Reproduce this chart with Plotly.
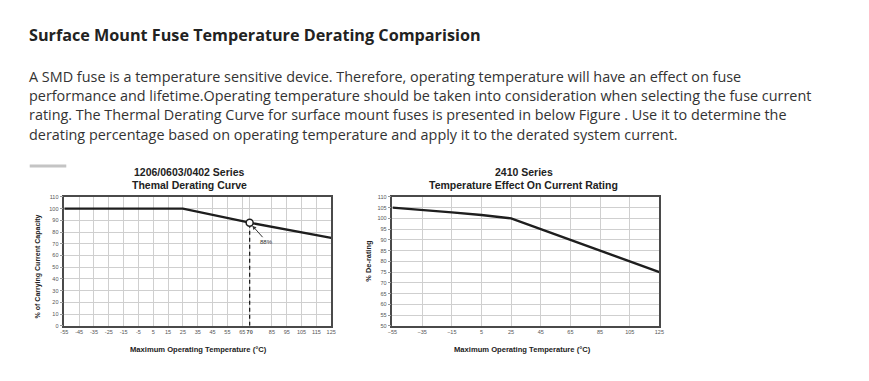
import plotly.graph_objects as go

W, H = 869, 381

# ---------------- data ----------------
heading = "Surface Mount Fuse Temperature Derating Comparision"
paragraph_lines = [
    "A SMD fuse is a temperature sensitive device. Therefore, operating temperature will have an effect on fuse",
    "performance and lifetime.Operating temperature should be taken into consideration when selecting the fuse current",
    "rating. The Thermal Derating Curve for surface mount fuses is presented in below Figure . Use it to determine the",
    "derating percentage based on operating temperature and apply it to the derated system current.",
]

left_title = ["1206/0603/0402 Series", "Themal Derating Curve"]
left_ytitle = "% of Carrying Current Capacity"
left_temp = [-55, 25, 70, 125]
left_pct = [100, 100, 88, 75]
mark_temp = [70]
mark_pct = [88]
mark_label = "88%"
dash_temp = [70, 70]
dash_pct = [0, 88]
left_xticks = [-55, -45, -35, -25, -15, -5, 5, 15, 25, 35, 45, 55, 65, 70, 85, 95, 105, 115, 125]
left_xlabels = ["<b>70</b>" if v == 70 else str(v) for v in left_xticks]
left_yticks = list(range(0, 111, 10))

right_title = ["2410 Series", "Temperature Effect On Current Rating"]
right_ytitle = "% De-rating"
right_temp = [-55, -35, -15, 5, 25, 45, 65, 85, 105, 125]
right_pct = [105, 104, 102.8, 101.6, 100, 95, 90, 85, 80, 75]
right_xticks = [-55, -35, -15, 5, 25, 45, 65, 85, 105, 125]
right_yticks = list(range(50, 111, 5))

xtitle = "Maximum Operating Temperature (°C)"

# ---------------- helpers ----------------
def px(x):
    return x / W

def py(y):
    return 1 - y / H

CF = "Liberation Sans, Arial, sans-serif"
TF = "Open Sans, Noto Sans, sans-serif"
LINE = "#1e1e1e"
GRID = "#cfcfcf"
FRAME = "#4a4a4a"
TICK = "#555555"

fig = go.Figure()

fig.add_trace(go.Scatter(x=left_temp, y=left_pct, mode="lines",
                         line=dict(color=LINE, width=2.4), xaxis="x", yaxis="y",
                         hoverinfo="skip", showlegend=False))
fig.add_trace(go.Scatter(x=dash_temp, y=dash_pct, mode="lines",
                         line=dict(color=LINE, width=1.3, dash="4px,3px"), xaxis="x", yaxis="y",
                         hoverinfo="skip", showlegend=False))
fig.add_trace(go.Scatter(x=mark_temp, y=mark_pct, mode="markers",
                         marker=dict(color="white", size=7, line=dict(color=LINE, width=1.5)),
                         xaxis="x", yaxis="y", hoverinfo="skip", showlegend=False))
fig.add_trace(go.Scatter(x=right_temp, y=right_pct, mode="lines",
                         line=dict(color=LINE, width=2.4), xaxis="x2", yaxis="y2",
                         hoverinfo="skip", showlegend=False))

axis_common = dict(showgrid=True, gridcolor=GRID, gridwidth=1, zeroline=False,
                   showline=True, linecolor=FRAME, linewidth=1.5, mirror=True, tickangle=0,
                   tickfont=dict(family=CF, size=5.5, color=TICK), fixedrange=True)

fig.update_layout(
    width=W, height=H,
    margin=dict(l=0, r=0, t=0, b=0),
    paper_bgcolor="white", plot_bgcolor="white",
    showlegend=False,
    xaxis=dict(domain=[px(60), px(330)], range=[-55, 125], tickmode="array",
               tickvals=left_xticks, ticktext=left_xlabels, ticks="", anchor="y",
               **axis_common),
    yaxis=dict(domain=[py(328), py(197)], range=[0, 110], tickmode="array",
               tickvals=left_yticks, ticks="outside", ticklen=3, tickcolor="#999",
               anchor="x", **axis_common),
    xaxis2=dict(domain=[px(392), px(662)], range=[-55, 125], tickmode="array",
                tickvals=right_xticks, ticks="", anchor="y2", **axis_common),
    yaxis2=dict(domain=[py(328), py(197)], range=[50, 110], tickmode="array",
                tickvals=right_yticks, ticks="outside", ticklen=3, tickcolor="#999",
                anchor="x2", **axis_common),
)

ann = []
ann.append(dict(text="<b>" + heading + "</b>", x=px(22.5), y=py(32.5), xref="paper", yref="paper",
                xanchor="left", yanchor="middle", showarrow=False,
                font=dict(family=TF, size=16.2, color="#222222")))
for i, line in enumerate(paragraph_lines):
    ann.append(dict(text=line, x=px(22.5), y=py(74.3 + i * 19.7), xref="paper", yref="paper",
                    xanchor="left", yanchor="middle", showarrow=False,
                    font=dict(family=TF, size=14.4, color="#333333")))

for (cx, title) in [(187, left_title), (525, right_title)]:
    for j, t in enumerate(title):
        ann.append(dict(text="<b>" + t + "</b>", x=px(cx), y=py(172 + j * 13.3),
                        xref="paper", yref="paper", xanchor="center", yanchor="middle",
                        showarrow=False, font=dict(family=CF, size=10.5, color="#222222")))

ann.append(dict(text="<b>" + xtitle + "</b>", x=px(196), y=py(352), xref="paper", yref="paper",
                xanchor="center", yanchor="middle", showarrow=False,
                font=dict(family=CF, size=7.6, color="#222222")))
ann.append(dict(text="<b>" + xtitle + "</b>", x=px(524), y=py(352), xref="paper", yref="paper",
                xanchor="center", yanchor="middle", showarrow=False,
                font=dict(family=CF, size=7.6, color="#222222")))
ann.append(dict(text="<b>" + left_ytitle + "</b>", x=px(33), y=py(268), xref="paper", yref="paper",
                xanchor="center", yanchor="middle", showarrow=False, textangle=-90,
                font=dict(family=CF, size=7, color="#222222")))
ann.append(dict(text="<b>" + right_ytitle + "</b>", x=px(368), y=py(262), xref="paper", yref="paper",
                xanchor="center", yanchor="middle", showarrow=False, textangle=-90,
                font=dict(family=CF, size=7.4, color="#222222")))

ann.append(dict(text=mark_label, x=mark_temp[0], y=mark_pct[0], xref="x", yref="y",
                ax=17, ay=19, showarrow=True, arrowhead=2, arrowsize=0.8, arrowwidth=1,
                arrowcolor="#333", standoff=4,
                font=dict(family=CF, size=6, color="#333333")))

fig.update_layout(annotations=ann)

fig.add_shape(type="line", xref="paper", yref="paper", x0=px(25), x1=px(62), y0=py(165.7), y1=py(165.7),
              line=dict(color="#c4c4c4", width=3))

fig.write_html("out.html", config={"displayModeBar": False},
               post_script="document.body.style.margin='0';document.body.style.overflow='hidden';")
